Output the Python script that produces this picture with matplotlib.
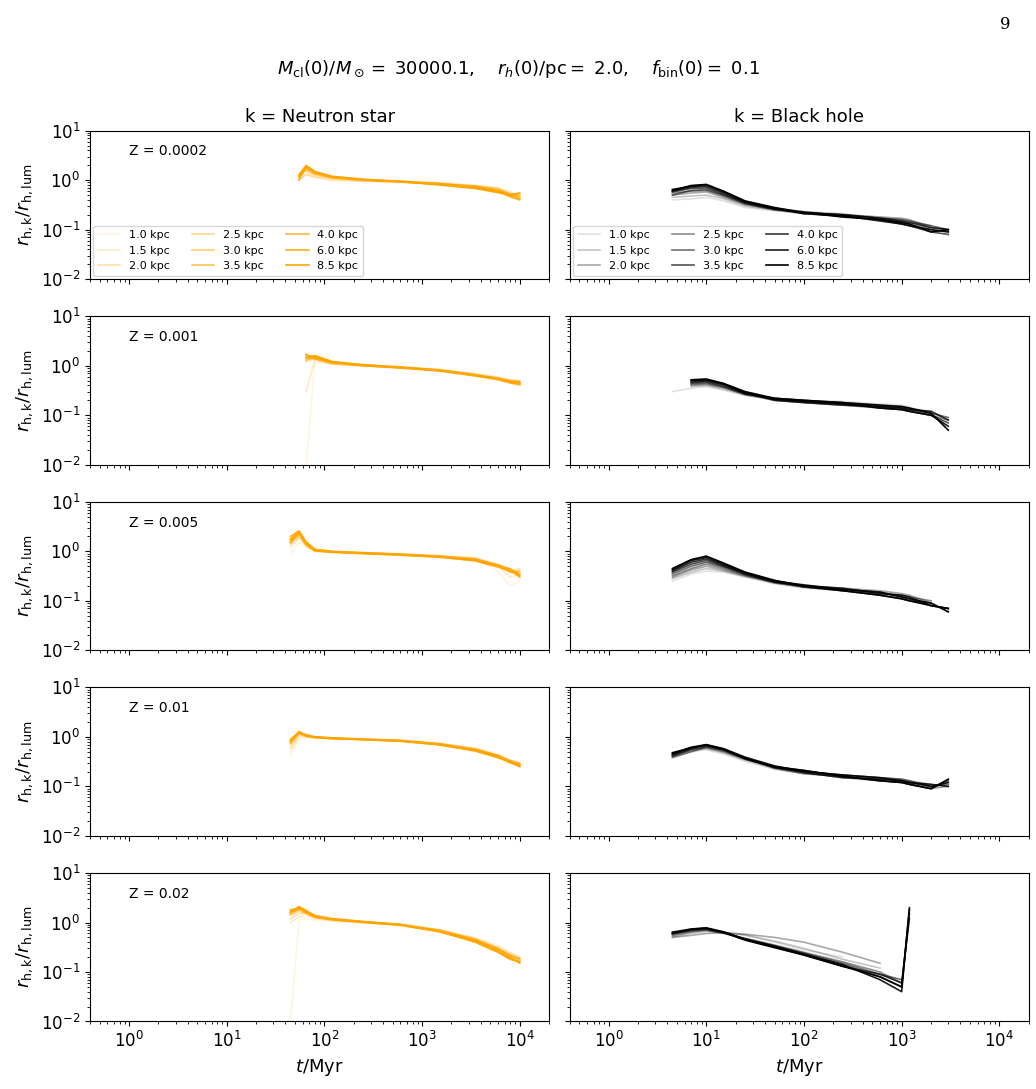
import numpy as np
import matplotlib.pyplot as plt

plt.rcParams['mathtext.fontset'] = 'dejavusans'

distances = ['1.0', '1.5', '2.0', '2.5', '3.0', '3.5', '4.0', '6.0', '8.5']
metallicities = ['0.0002', '0.001', '0.005', '0.01', '0.02']
nan = np.nan

t_ns = [45, 55, 65, 80, 120, 250, 600, 1500, 3500, 6000, 8000, 10000]
t_bh = [4.5, 7, 10, 15, 25, 50, 100, 250, 600, 1000, 1200, 2000, 3000]

# neutron star r_h ratio, one row per distance
ns = {
    '0.0002': [
        [nan, 1.10, 1.40, 1.20, 1.05, 0.98, 0.95, 0.90, 0.80, 0.70, 0.55, 0.50],
        [nan, 1.20, 1.50, 1.25, 1.10, 1.00, 0.92, 0.88, 0.75, 0.65, 0.60, 0.45],
        [nan, 1.00, 1.30, 1.15, 1.00, 0.95, 0.90, 0.85, 0.78, 0.70, 0.50, 0.55],
        [nan, 1.30, 1.60, 1.30, 1.10, 1.00, 0.96, 0.86, 0.72, 0.60, 0.55, 0.48],
        [nan, 1.10, 1.70, 1.35, 1.15, 1.02, 0.94, 0.84, 0.76, 0.66, 0.52, 0.50],
        [nan, 1.20, 1.80, 1.40, 1.12, 1.00, 0.93, 0.82, 0.70, 0.58, 0.48, 0.42],
        [nan, 1.00, 1.90, 1.45, 1.18, 1.05, 0.95, 0.85, 0.74, 0.62, 0.50, 0.45],
        [nan, 1.30, 2.00, 1.50, 1.20, 1.03, 0.92, 0.83, 0.72, 0.60, 0.46, 0.40],
        [nan, 1.20, 1.85, 1.42, 1.16, 1.01, 0.94, 0.80, 0.68, 0.56, 0.50, 0.55],
    ],
    '0.001': [
        [nan, nan, 0.01, 1.20, 1.05, 1.00, 0.92, 0.85, 0.70, 0.60, 0.50, 0.48],
        [nan, nan, 0.30, 1.30, 1.10, 0.98, 0.90, 0.82, 0.66, 0.55, 0.45, 0.40],
        [nan, nan, 1.20, 1.40, 1.12, 1.00, 0.94, 0.84, 0.68, 0.58, 0.52, 0.50],
        [nan, nan, 1.40, 1.35, 1.10, 1.02, 0.93, 0.80, 0.64, 0.55, 0.48, 0.45],
        [nan, nan, 1.50, 1.45, 1.15, 1.00, 0.91, 0.78, 0.62, 0.52, 0.46, 0.42],
        [nan, nan, 1.30, 1.50, 1.18, 1.03, 0.92, 0.80, 0.65, 0.56, 0.50, 0.48],
        [nan, nan, 1.60, 1.55, 1.20, 1.05, 0.95, 0.82, 0.66, 0.54, 0.47, 0.44],
        [nan, nan, 1.70, 1.40, 1.16, 1.01, 0.90, 0.79, 0.63, 0.53, 0.45, 0.42],
        [nan, nan, 1.45, 1.60, 1.22, 1.04, 0.93, 0.81, 0.64, 0.55, 0.48, 0.46],
    ],
    '0.005': [
        [0.90, 1.50, 1.20, 1.00, 0.95, 0.90, 0.85, 0.80, 0.70, 0.40, 0.20, 0.25],
        [1.20, 1.80, 1.40, 1.05, 0.98, 0.92, 0.86, 0.82, 0.75, 0.50, 0.30, 0.35],
        [1.50, 2.40, 1.60, 1.10, 1.00, 0.94, 0.88, 0.80, 0.72, 0.55, 0.40, 0.45],
        [1.40, 2.00, 1.30, 1.00, 0.96, 0.90, 0.84, 0.78, 0.66, 0.50, 0.45, 0.30],
        [1.60, 2.20, 1.50, 1.08, 0.99, 0.93, 0.87, 0.79, 0.68, 0.52, 0.40, 0.35],
        [1.80, 2.50, 1.40, 1.02, 0.97, 0.91, 0.85, 0.77, 0.64, 0.48, 0.42, 0.30],
        [1.50, 2.30, 1.35, 1.05, 0.98, 0.92, 0.86, 0.78, 0.67, 0.50, 0.38, 0.40],
        [2.00, 2.60, 1.55, 1.10, 1.00, 0.94, 0.88, 0.80, 0.70, 0.53, 0.44, 0.35],
        [1.70, 2.40, 1.45, 1.04, 0.96, 0.90, 0.84, 0.76, 0.65, 0.49, 0.40, 0.32],
    ],
    '0.01': [
        [0.40, 0.90, 1.00, 0.95, 0.92, 0.90, 0.85, 0.75, 0.60, 0.45, 0.35, 0.30],
        [0.50, 1.00, 1.05, 0.98, 0.94, 0.88, 0.84, 0.72, 0.58, 0.42, 0.32, 0.28],
        [0.60, 1.10, 1.10, 1.00, 0.95, 0.91, 0.86, 0.74, 0.56, 0.40, 0.34, 0.30],
        [0.70, 1.20, 1.00, 0.96, 0.93, 0.89, 0.83, 0.70, 0.55, 0.41, 0.30, 0.26],
        [0.80, 1.15, 1.08, 0.99, 0.94, 0.90, 0.85, 0.73, 0.57, 0.43, 0.33, 0.29],
        [0.75, 1.25, 1.12, 1.00, 0.95, 0.88, 0.82, 0.71, 0.54, 0.39, 0.31, 0.27],
        [0.85, 1.30, 1.06, 0.97, 0.92, 0.89, 0.84, 0.72, 0.56, 0.42, 0.32, 0.28],
        [0.90, 1.20, 1.10, 1.00, 0.96, 0.90, 0.83, 0.70, 0.53, 0.40, 0.30, 0.26],
        [0.80, 1.25, 1.04, 0.98, 0.93, 0.88, 0.82, 0.69, 0.52, 0.38, 0.31, 0.25],
    ],
    '0.02': [
        [0.01, 1.10, 1.20, 1.10, 1.05, 0.98, 0.90, 0.70, 0.50, 0.35, 0.25, 0.20],
        [1.00, 1.30, 1.40, 1.20, 1.10, 1.00, 0.88, 0.68, 0.45, 0.30, 0.22, 0.18],
        [1.20, 1.50, 1.60, 1.30, 1.15, 1.02, 0.92, 0.72, 0.48, 0.32, 0.24, 0.20],
        [1.40, 1.70, 1.50, 1.25, 1.12, 1.00, 0.89, 0.66, 0.44, 0.28, 0.20, 0.17],
        [1.60, 1.80, 1.70, 1.35, 1.18, 1.04, 0.91, 0.70, 0.46, 0.30, 0.21, 0.19],
        [1.50, 1.90, 1.55, 1.28, 1.14, 1.01, 0.90, 0.67, 0.43, 0.27, 0.19, 0.16],
        [1.70, 2.00, 1.65, 1.32, 1.16, 1.03, 0.92, 0.69, 0.45, 0.29, 0.22, 0.18],
        [1.80, 1.95, 1.60, 1.30, 1.15, 1.02, 0.88, 0.65, 0.42, 0.26, 0.20, 0.15],
        [1.60, 2.10, 1.75, 1.38, 1.20, 1.05, 0.90, 0.66, 0.40, 0.25, 0.18, 0.16],
    ],
}

# black hole r_h ratio, one row per distance
bh = {
    '0.0002': [
        [0.40, 0.42, 0.45, 0.38, 0.28, 0.24, 0.22, 0.20, 0.18, 0.16, 0.15, 0.10, nan],
        [0.45, 0.48, 0.50, 0.42, 0.30, 0.25, 0.23, 0.21, 0.17, 0.15, 0.14, 0.12, nan],
        [0.50, 0.55, 0.58, 0.45, 0.32, 0.26, 0.22, 0.20, 0.18, 0.17, 0.16, 0.11, 0.10],
        [0.55, 0.60, 0.62, 0.48, 0.33, 0.25, 0.21, 0.19, 0.16, 0.14, 0.13, 0.10, 0.09],
        [0.50, 0.62, 0.65, 0.50, 0.34, 0.26, 0.22, 0.20, 0.17, 0.16, 0.15, 0.12, 0.10],
        [0.58, 0.68, 0.70, 0.52, 0.35, 0.27, 0.23, 0.19, 0.16, 0.13, 0.12, 0.09, 0.08],
        [0.60, 0.72, 0.75, 0.55, 0.36, 0.26, 0.22, 0.20, 0.17, 0.15, 0.14, 0.11, 0.10],
        [0.65, 0.75, 0.80, 0.58, 0.37, 0.27, 0.21, 0.19, 0.15, 0.13, 0.12, 0.10, 0.09],
        [0.62, 0.78, 0.82, 0.60, 0.38, 0.28, 0.22, 0.18, 0.16, 0.14, 0.13, 0.09, 0.10],
    ],
    '0.001': [
        [0.30, 0.35, 0.38, 0.32, 0.25, 0.22, 0.20, 0.19, 0.17, 0.16, 0.15, nan, nan],
        [nan, 0.38, 0.40, 0.34, 0.26, 0.21, 0.19, 0.18, 0.16, 0.15, 0.14, 0.12, nan],
        [nan, 0.40, 0.42, 0.36, 0.27, 0.22, 0.20, 0.17, 0.15, 0.14, 0.13, 0.11, nan],
        [nan, 0.42, 0.44, 0.37, 0.26, 0.20, 0.18, 0.16, 0.14, 0.13, 0.12, 0.10, 0.08],
        [nan, 0.44, 0.46, 0.38, 0.28, 0.21, 0.19, 0.17, 0.15, 0.14, 0.13, 0.11, 0.09],
        [nan, 0.46, 0.48, 0.40, 0.27, 0.22, 0.20, 0.18, 0.14, 0.13, 0.12, 0.10, 0.07],
        [nan, 0.48, 0.50, 0.42, 0.29, 0.20, 0.18, 0.16, 0.15, 0.14, 0.13, 0.12, 0.08],
        [nan, 0.50, 0.52, 0.43, 0.28, 0.21, 0.19, 0.17, 0.14, 0.13, 0.12, 0.10, 0.06],
        [nan, 0.52, 0.54, 0.44, 0.30, 0.22, 0.20, 0.18, 0.16, 0.15, 0.14, 0.11, 0.05],
    ],
    '0.005': [
        [0.25, 0.35, 0.40, 0.38, 0.30, 0.22, 0.18, 0.16, 0.15, 0.13, 0.12, nan, nan],
        [0.28, 0.38, 0.45, 0.40, 0.31, 0.23, 0.19, 0.17, 0.14, 0.12, 0.11, 0.08, nan],
        [0.30, 0.42, 0.50, 0.42, 0.32, 0.24, 0.20, 0.18, 0.16, 0.14, 0.13, 0.09, nan],
        [0.32, 0.45, 0.55, 0.45, 0.33, 0.23, 0.19, 0.16, 0.14, 0.13, 0.12, 0.10, nan],
        [0.35, 0.50, 0.60, 0.48, 0.34, 0.24, 0.20, 0.17, 0.15, 0.12, 0.11, 0.08, 0.07],
        [0.38, 0.55, 0.65, 0.50, 0.35, 0.25, 0.19, 0.16, 0.13, 0.11, 0.10, 0.09, 0.06],
        [0.40, 0.60, 0.70, 0.52, 0.36, 0.24, 0.20, 0.18, 0.14, 0.13, 0.12, 0.08, 0.07],
        [0.42, 0.65, 0.75, 0.55, 0.37, 0.25, 0.21, 0.17, 0.15, 0.12, 0.11, 0.09, 0.06],
        [0.45, 0.68, 0.80, 0.58, 0.38, 0.26, 0.20, 0.16, 0.13, 0.11, 0.10, 0.08, 0.07],
    ],
    '0.01': [
        [0.40, 0.50, 0.55, 0.45, 0.32, 0.22, 0.18, 0.16, 0.14, 0.13, 0.12, 0.10, nan],
        [0.42, 0.52, 0.58, 0.48, 0.34, 0.24, 0.20, 0.17, 0.15, 0.14, 0.13, 0.11, nan],
        [0.45, 0.55, 0.60, 0.50, 0.35, 0.25, 0.19, 0.15, 0.13, 0.12, 0.11, 0.09, 0.10],
        [0.38, 0.50, 0.62, 0.52, 0.36, 0.23, 0.18, 0.16, 0.14, 0.13, 0.12, 0.10, 0.12],
        [0.40, 0.55, 0.64, 0.54, 0.37, 0.24, 0.20, 0.17, 0.15, 0.14, 0.13, 0.10, 0.11],
        [0.42, 0.58, 0.66, 0.55, 0.36, 0.25, 0.21, 0.16, 0.13, 0.12, 0.11, 0.09, 0.13],
        [0.44, 0.60, 0.68, 0.56, 0.38, 0.24, 0.19, 0.15, 0.14, 0.13, 0.12, 0.10, 0.12],
        [0.46, 0.62, 0.70, 0.58, 0.39, 0.26, 0.20, 0.17, 0.15, 0.13, 0.12, 0.11, 0.10],
        [0.48, 0.60, 0.69, 0.57, 0.37, 0.25, 0.21, 0.16, 0.13, 0.12, 0.11, 0.09, 0.14],
    ],
    '0.02': [
        [0.50, 0.60, 0.65, 0.62, 0.55, 0.40, 0.28, 0.20, nan, nan, nan, nan, nan],
        [0.52, 0.62, 0.68, 0.64, 0.56, 0.42, 0.30, 0.18, 0.12, nan, nan, nan, nan],
        [0.50, 0.55, 0.60, 0.62, 0.58, 0.50, 0.40, 0.25, 0.15, nan, nan, nan, nan],
        [0.55, 0.65, 0.70, 0.60, 0.48, 0.35, 0.25, 0.16, 0.10, 0.06, nan, nan, nan],
        [0.58, 0.68, 0.72, 0.62, 0.47, 0.34, 0.24, 0.15, 0.09, 0.07, nan, nan, nan],
        [0.60, 0.70, 0.75, 0.63, 0.46, 0.33, 0.23, 0.14, 0.08, 0.05, 1.5, nan, nan],
        [0.62, 0.72, 0.76, 0.64, 0.45, 0.32, 0.22, 0.13, 0.09, 0.06, 1.2, nan, nan],
        [0.64, 0.74, 0.78, 0.65, 0.46, 0.33, 0.23, 0.14, 0.07, 0.04, 2.0, nan, nan],
        [0.60, 0.73, 0.77, 0.63, 0.44, 0.31, 0.22, 0.13, 0.08, 0.05, 1.8, nan, nan],
    ],
}

alphas = np.linspace(0.12, 1.0, len(distances))

fig, axes = plt.subplots(5, 2, figsize=(10.36, 10.89), sharex=True, sharey=True)
fig.subplots_adjust(left=0.087, right=0.993, top=0.88, bottom=0.062, wspace=0.045, hspace=0.25)

for i, z in enumerate(metallicities):
    for j, (data, tt, col) in enumerate([(ns, t_ns, 'orange'), (bh, t_bh, 'black')]):
        ax = axes[i, j]
        for k, d in enumerate(distances):
            ax.plot(tt, data[z][k], color=col, alpha=alphas[k], lw=1.2, label=f'{d} kpc')
        ax.set_xscale('log')
        ax.set_yscale('log')
        ax.set_xlim(0.4, 2e4)
        ax.set_ylim(1e-2, 1e1)
        ax.tick_params(labelsize=12)
        if j == 0:
            ax.set_ylabel(r'$r_{\rm h,k}/r_{\rm h,lum}$', fontsize=13)
            ax.text(0.085, 0.86, f'Z = {z}', transform=ax.transAxes, fontsize=10, va='center')
        if i == 4:
            ax.set_xlabel(r'$t$/Myr', fontsize=13)
        if i == 0:
            ax.legend(loc='lower left', ncol=3, fontsize=8, borderaxespad=0.3)

axes[0, 0].set_title('k = Neutron star', fontsize=13)
axes[0, 1].set_title('k = Black hole', fontsize=13)
fig.suptitle(r'$M_{\rm cl}(0)/M_\odot=$ 30000.1,    $r_h(0)$/pc$=$ 2.0,    $f_{\rm bin}(0)=$ 0.1',
             fontsize=13, y=0.947)
fig.text(0.975, 0.985, '9', fontsize=12, family='DejaVu Serif', ha='right', va='top')

plt.savefig('out.png', dpi=100)
